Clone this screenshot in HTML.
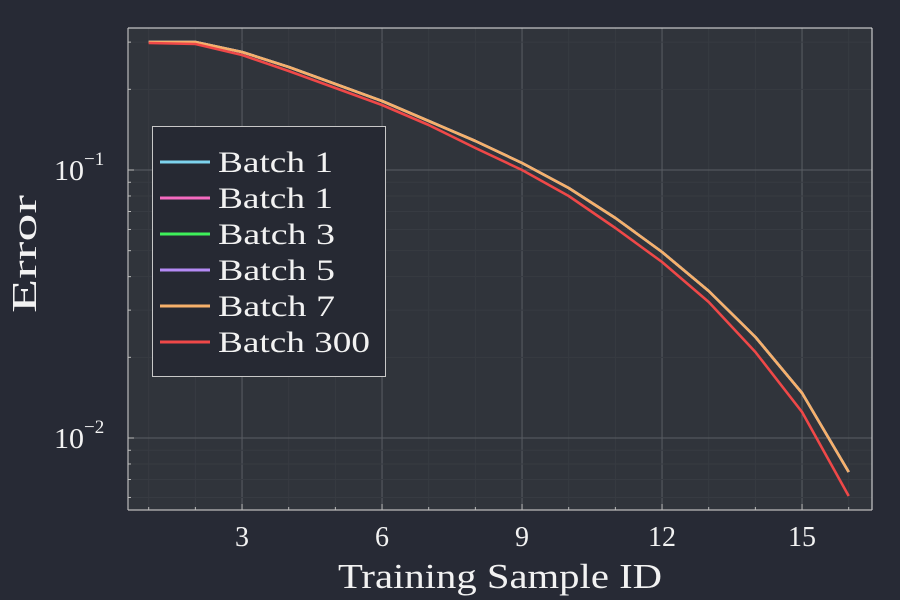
<!DOCTYPE html>
<html><head><meta charset="utf-8"><style>
html,body{margin:0;padding:0;background:#272a35;}
svg{display:block;}
text{font-family:"Liberation Serif",serif;fill:#f2f2f2;}
</style></head><body>
<svg id="s" width="900" height="600" xmlns="http://www.w3.org/2000/svg">
<rect width="900" height="600" fill="#272a35"/>
<rect x="128" y="28" width="744" height="482" fill="#30343b"/>
<g id="grid"></g>
<line x1="128" y1="28" x2="872" y2="28" stroke="#e8e8e8" stroke-width="1"/>
<line x1="872" y1="28" x2="872" y2="510" stroke="#e8e8e8" stroke-width="1"/>
<line x1="128" y1="28" x2="128" y2="510" stroke="#bbbbbb" stroke-width="1.2"/>
<line x1="128" y1="510" x2="872" y2="510" stroke="#bbbbbb" stroke-width="1.2"/>
<g id="ticks"></g>
<g id="lines"></g>
<g font-size="28">
<text x="242" y="546" text-anchor="middle">3</text>
<text x="382" y="546" text-anchor="middle">6</text>
<text x="522" y="546" text-anchor="middle">9</text>
<text x="662" y="546" text-anchor="middle">12</text>
<text x="802" y="546" text-anchor="middle">15</text>
<text x="54" y="180" font-size="28" textLength="30" lengthAdjust="spacingAndGlyphs">10</text><text x="84" y="165" font-size="19">−1</text>
<text x="54" y="448" font-size="28" textLength="30" lengthAdjust="spacingAndGlyphs">10</text><text x="84" y="433" font-size="19">−2</text>
</g>
<text x="338" y="588" font-size="35" textLength="324" lengthAdjust="spacingAndGlyphs">Training Sample ID</text>
<text transform="translate(36,313) rotate(-90)" font-size="35" textLength="118" lengthAdjust="spacingAndGlyphs">Error</text>
<rect x="152.5" y="126.5" width="233" height="250" fill="#262933" stroke="#c8c8c8" stroke-width="1"/>
<g id="leg" font-size="30"></g>
</svg>
<script>
const ns="http://www.w3.org/2000/svg";
function el(p,t,a){const e=document.createElementNS(ns,t);for(const k in a)e.setAttribute(k,a[k]);p.appendChild(e);return e;}
const X=v=>148.7+(v-1)*46.667, Y=v=>170-268*Math.log10(v/0.1);
const g=document.getElementById('grid'),tk=document.getElementById('ticks');
for(let i=1;i<=16;i++){const x=X(i);const maj=i%3==0;
 el(g,'line',{x1:x,y1:28,x2:x,y2:510,stroke:maj?'#5a5e64':'#373b42','stroke-width':1});
 el(tk,'line',{x1:x,y1:510,x2:x,y2:maj?504:507,stroke:'#bbbbbb','stroke-width':1});}
for(const d of [0.001,0.01,0.1]){for(let m=1;m<=9;m++){const y=Y(d*m);if(y<28||y>510)continue;const maj=m==1;
 el(g,'line',{x1:128,y1:y,x2:872,y2:y,stroke:maj?'#5a5e64':'#373b42','stroke-width':1});
 el(tk,'line',{x1:128,y1:y,x2:maj?134:131,y2:y,stroke:'#bbbbbb','stroke-width':1});}}
const ora=[42,42,52,67,84,101,121,141,163,188,218,252,291,337,393,472];
const red=[43,44,55,71,88,105,125,148,170,196,228,262,302,352,412,496];
const L=document.getElementById('lines');
function pl(arr,c){el(L,'polyline',{points:arr.map((y,i)=>X(i+1)+','+y).join(' '),fill:'none',stroke:c,'stroke-width':2.6,'stroke-linejoin':'round'});}
pl(ora,'#7dd3ee');pl(ora,'#f46ac0');pl(ora,'#3ef05a');pl(ora,'#b48af5');pl(ora,'#f6b06a');pl(red,'#ef4848');
const lg=document.getElementById('leg');
const items=[['Batch 1','#7dd3ee',115],['Batch 1','#f46ac0',115],['Batch 3','#3ef05a',117],['Batch 5','#b48af5',117],['Batch 7','#f6b06a',117],['Batch 300','#ef4848',152]];
items.forEach((it,i)=>{const y=162+i*36;
 el(lg,'line',{x1:160,y1:y,x2:210,y2:y,stroke:it[1],'stroke-width':3});
 const t=el(lg,'text',{x:218,y:y+10,textLength:it[2],lengthAdjust:'spacingAndGlyphs'});t.textContent=it[0];});
</script>
</body></html>
